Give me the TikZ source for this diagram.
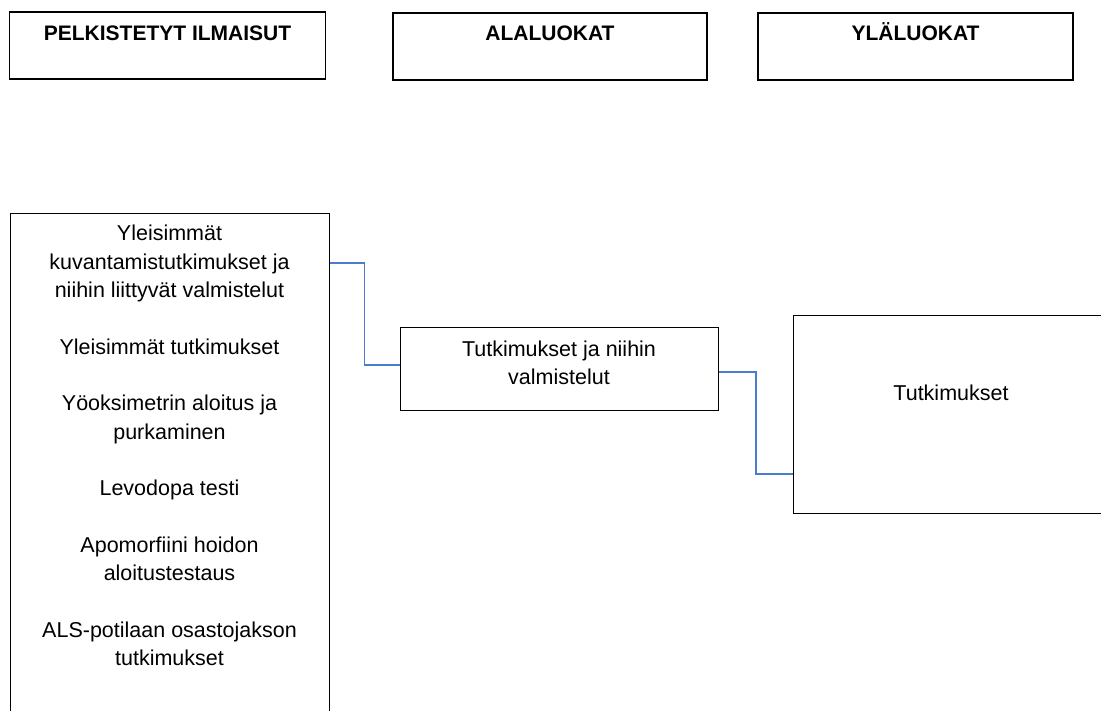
\documentclass[tikz,border=0pt]{standalone}
\usepackage{fontspec}
\setmainfont{Liberation Sans}
\definecolor{linkblue}{RGB}{74,124,208}
\begin{document}
\begin{tikzpicture}[x=1pt,y=-1pt,
  box/.style={draw=black,line width=1.1pt,inner sep=0pt,fill=white},
  head/.style={inner sep=0pt,anchor=base,align=center,
    font=\fontsize{21}{28.33}\selectfont\bfseries},
  body/.style={inner sep=0pt,anchor=north,align=center,
    font=\fontsize{21.5}{28.33}\selectfont},
  conn/.style={draw=linkblue,line width=1.1pt}]
\useasboundingbox (0,0) rectangle (1101,711);

% column headings
\node[box,minimum width=316pt,minimum height=67pt] (h1) at (167.5,45.5) {};
\node[box,minimum width=314pt,minimum height=67pt] (h2) at (550,46.5) {};
\node[box,minimum width=315pt,minimum height=67pt] (h3) at (915.5,46.5) {};
\node[head] (h1t) at (167.5,40.5) {PELKISTETYT ILMAISUT};
\node[head] (h2t) at (550,40.5) {ALALUOKAT};
\node[head] (h3t) at (915.5,40.5) {YLÄLUOKAT};

% simplified expressions
\node[box,minimum width=319pt,minimum height=560pt,anchor=north west] (lbox) at (10,213) {};
\node[body] (ltext) at (169.5,225) {Yleisimmät\\kuvantamistutkimukset ja\\niihin liittyvät valmistelut\\[28.33pt]
Yleisimmät tutkimukset\\[28.33pt]
Yöoksimetrin aloitus ja\\purkaminen\\[28.33pt]
Levodopa testi\\[28.33pt]
Apomorfiini hoidon\\aloitustestaus\\[28.33pt]
ALS-potilaan osastojakson\\tutkimukset};

% subcategory
\node[box,minimum width=318pt,minimum height=83pt,anchor=north west] (mbox) at (400,327) {};
\node[body,font=\fontsize{21.5}{28}\selectfont] (mtext) at (559,341) {Tutkimukset ja niihin\\valmistelut};

% main category
\node[box,minimum width=320pt,minimum height=198pt,anchor=north west] (rbox) at (793,315) {};
\node[body] (rtext) at (951,385) {Tutkimukset};

% elbow connectors
\coordinate (j1) at (364.5,263);
\coordinate (j2) at (364.5,365);
\coordinate (j3) at (756,372);
\coordinate (j4) at (756,474);
\draw[conn] (j1 -| lbox.east) -- (j1) -- (j2) -- (j2 -| mbox.west);
\draw[conn] (j3 -| mbox.east) -- (j3) -- (j4) -- (j4 -| rbox.west);
\end{tikzpicture}
\end{document}
